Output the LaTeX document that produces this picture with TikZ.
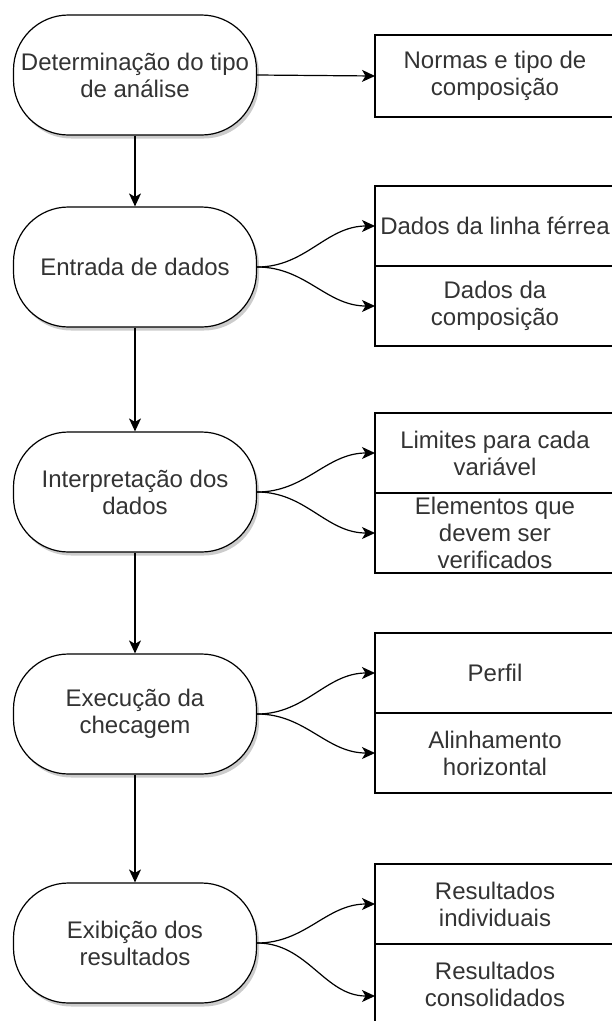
\documentclass[tikz,border=0pt]{standalone}
\usepackage{fontspec}
\setmainfont{Liberation Sans}
\usepackage{xcolor}
\usetikzlibrary{arrows.meta, shadows}
\usetikzlibrary{positioning}

\tikzset{
  terminal/.style={draw, line width=1.2pt, fill=white, rounded corners=55pt,
    minimum width=243pt, minimum height=120pt, align=center, inner sep=0pt,
    text=black!80, font=\fontsize{24}{27}\selectfont,
    drop shadow={opacity=0.4, shadow xshift=2.5pt, shadow yshift=-3.5pt}},
  caixa/.style={draw, line width=1.2pt, minimum width=240pt, minimum height=80pt,
    align=center, inner sep=0pt, outer sep=0pt,
    text=black!80, font=\fontsize{24}{27}\selectfont},
  seta/.style={line width=1.2pt, -{Stealth[length=13pt,width=12pt,inset=3.5pt]}}
}

\begin{document}
\begin{tikzpicture}[x=1pt,y=-1pt]
\useasboundingbox (0,0) rectangle (611,1021);
\node[terminal] (det) at (135,75) {Determinação do tipo\\de análise};
\node[terminal] (ent) at (135,267) {Entrada de dados};
\node[terminal] (int) at (135,492) {Interpretação dos\\dados};
\node[terminal] (exe) at (135,714) {Execução da\\checagem};
\node[terminal] (exi) at (135,943) {Exibição dos\\resultados};

\node[caixa, minimum height=82pt] (normas) at (495,76) {Normas e tipo de\\composição};
\node[caixa] (linha) at (495,226) {Dados da linha férrea};
\node[caixa, below=0pt of linha] (comp) {Dados da\\composição};
\node[caixa] (limites) at (495,453) {Limites para cada\\variável};
\node[caixa, below=0pt of limites] (elem) {Elementos que\\devem ser\\verificados};
\node[caixa] (perfil) at (495,673) {Perfil};
\node[caixa, below=0pt of perfil] (alinh) {Alinhamento\\horizontal};
\node[caixa] (indiv) at (495,904) {Resultados\\individuais};
\node[caixa, below=0pt of indiv, minimum height=92pt, text depth=12pt] (consol) {Resultados\\consolidados};

\draw[seta] (det) -- (ent);
\draw[seta] (ent) -- (int);
\draw[seta] (int) -- (exe);
\draw[seta] (exe) -- (exi);

\draw[seta] (det.east) -- (normas.west);
\draw[seta] (ent.east) to[out=0,in=180] (linha.west);
\draw[seta] (ent.east) to[out=0,in=180] (comp.west);
\draw[seta] (int.east) to[out=0,in=180] (limites.west);
\draw[seta] (int.east) to[out=0,in=180] (elem.west);
\draw[seta] (exe.east) to[out=0,in=180] (perfil.west);
\draw[seta] (exe.east) to[out=0,in=180] (alinh.west);
\draw[seta] (exi.east) to[out=0,in=180] (indiv.west);
\draw[seta] (exi.east) to[out=0,in=180] ([yshift=-6pt]consol.west);
\end{tikzpicture}
\end{document}
